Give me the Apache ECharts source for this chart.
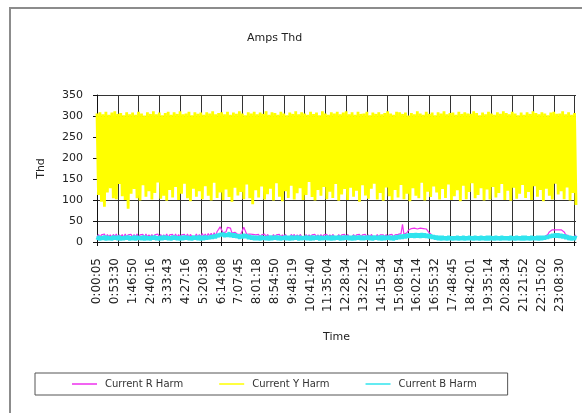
<!DOCTYPE html>
<html>
<head>
<meta charset="utf-8">
<script src="https://cdn.jsdelivr.net/npm/echarts@6/dist/echarts.min.js"></script>
<style>
html,body{margin:0;padding:0;background:#fff;}
#c{width:582px;height:413px;}
</style>
</head>
<body>
<div id="c"></div>
<script>
// Tick labels on the time axis (one every 12 samples)
const timeLabels = ['0:00:05','0:53:30','1:46:50','2:40:16','3:33:43','4:27:16','5:20:38','6:14:08','7:07:45','8:01:18','8:54:50','9:48:19','10:41:40','11:35:04','12:28:34','13:22:12','14:15:34','15:08:54','16:02:14','16:55:32','17:48:45','18:42:01','19:35:14','20:28:34','21:21:52','22:15:02','23:08:30'];
const seriesNames = ['Current R Harm','Current Y Harm','Current B Harm'];
const yTicks = [0,50,100,150,200,250,300,350];

const currentR = [
12,18,11,17,13,19,10,18,12,17,11,18,
13,19,11,17,12,18,10,19,12,17,13,18,
11,18,12,19,10,17,13,18,11,19,12,17,
12,18,11,17,13,19,12,18,10,17,12,19,
11,17,13,18,12,19,11,18,12,17,13,18,
12,19,11,18,13,17,12,19,11,18,12,20,
13,19,12,20,14,21,13,22,14,25,30,36,
34,22,18,24,35,37,33,21,19,23,20,18,
17,19,21,35,33,18,16,19,15,18,14,17,
13,18,12,17,14,19,12,18,13,17,12,18,
12,17,13,18,11,17,12,18,13,17,12,18,
13,18,12,17,12,18,13,17,12,18,11,17,
12,17,13,18,12,17,11,18,12,17,13,18,
12,17,12,18,13,17,12,18,12,17,13,18,
12,18,13,17,12,18,12,17,13,18,12,17,
13,18,12,17,12,18,13,17,12,18,12,17,
13,17,12,18,12,17,13,18,12,17,13,18,
14,20,42,18,16,22,28,31,32,31,33,32,
31,32,33,31,32,30,31,28,22,18,16,15,
14,13,12,13,12,13,12,14,12,13,12,13,
12,13,12,14,12,13,12,13,12,14,12,13,
12,13,12,13,12,14,12,13,12,13,12,14,
12,13,12,13,12,14,12,13,12,13,12,13,
12,14,12,13,12,13,12,14,12,13,12,13,
12,13,12,14,12,13,12,13,12,14,12,13,
12,14,13,15,18,24,28,29,30,29,30,29,
30,29,28,24,18,15,14,13,12,14,13,17
];

const currentY = [
306,112,309,96,304,84,310,118,303,128,308,104,
311,102,305,138,307,109,302,100,309,79,304,115,
308,126,303,104,310,99,306,135,301,108,309,121,
305,101,311,117,304,142,308,103,302,110,307,98,
310,124,303,106,309,131,305,100,311,115,304,139,
306,104,310,97,302,127,309,108,305,121,308,102,
303,133,309,110,306,99,311,141,304,105,307,118,
309,100,304,125,310,107,303,96,308,129,305,111,
311,119,306,102,302,137,309,104,306,90,310,123,
304,106,308,132,305,101,311,114,303,127,309,99,
307,140,303,108,310,97,306,121,302,105,308,134,
305,101,311,116,304,128,309,100,306,112,303,143,
310,107,305,99,308,124,302,110,311,131,306,102,
303,120,309,105,306,138,310,98,304,113,308,126,
311,100,304,129,309,108,303,122,310,96,305,135,
306,111,310,103,302,127,308,139,305,101,309,117,
304,98,307,130,311,109,306,100,303,124,310,106,
309,136,305,102,308,115,301,97,307,128,304,110,
311,104,306,141,303,99,310,120,305,107,308,132,
302,118,309,101,306,126,311,105,304,137,307,100,
308,109,303,123,310,97,305,134,309,102,306,119,
305,140,311,104,307,112,302,128,308,99,304,125,
310,101,306,131,303,106,309,117,305,138,311,100,
307,122,304,98,310,129,306,103,302,115,308,136,
303,105,309,119,305,100,311,133,307,108,304,124,
309,97,306,127,302,110,308,101,310,139,305,113,
306,121,311,102,304,130,309,99,303,117,307,88
];

const currentB = [
5,14,4,13,6,15,4,14,5,13,4,15,
6,14,5,15,4,13,5,14,6,15,4,13,
5,15,4,14,6,13,5,15,4,14,5,13,
4,14,6,15,5,13,4,14,5,15,6,14,
5,13,4,15,6,14,5,13,4,14,5,15,
6,14,5,13,4,15,6,14,5,15,4,14,
5,15,6,14,7,16,8,17,9,19,12,21,
14,22,12,20,13,23,12,21,11,20,10,18,
8,17,9,19,10,18,7,16,6,15,5,14,
5,14,4,15,6,13,5,14,4,15,5,14,
6,15,5,14,4,13,6,15,5,14,4,15,
5,14,6,15,4,14,5,13,6,15,5,14,
4,15,5,14,6,15,4,14,5,13,6,15,
5,14,4,15,5,14,6,15,4,14,5,15,
6,15,5,14,4,15,5,14,6,15,5,14,
5,14,6,15,5,14,4,15,6,14,5,15,
4,15,5,14,6,15,5,14,4,15,6,16,
7,17,8,18,9,19,10,20,11,20,10,21,
11,20,10,21,11,20,10,19,9,18,8,16,
6,15,5,14,4,14,5,13,4,14,5,13,
4,13,5,14,4,13,5,14,4,13,5,14,
5,13,4,14,5,13,4,14,5,13,4,14,
4,14,5,13,4,14,5,13,4,14,5,13,
5,13,4,14,5,13,4,14,5,13,4,14,
4,14,5,13,4,14,5,13,5,14,4,14,
5,14,6,15,8,17,10,19,11,20,11,20,
10,19,9,18,7,16,5,14,4,13,5,15
];

const SAMPLES_PER_LABEL = 12;
const categories = currentY.map((v, i) => (i % SAMPLES_PER_LABEL === 0 ? timeLabels[i / SAMPLES_PER_LABEL] : ''));

const FONT = 'DejaVu Sans';
const COLORS = ['#ee30ee', '#ffff00', '#30e4ee'];
const chart = echarts.init(document.getElementById('c'), null, {renderer: 'canvas'});
chart.setOption({
  animation: false,
  backgroundColor: '#fff',
  graphic: [{
    type: 'rect', silent: true, z: -10,
    shape: {x: 10, y: 8, width: 700, height: 500},
    style: {fill: '#fff', stroke: '#8c8c8c', lineWidth: 2}
  }],
  title: {
    text: 'Amps Thd', left: 247, top: 33, padding: 0,
    textStyle: {fontFamily: FONT, fontSize: 11, fontWeight: 'normal', color: '#222'}
  },
  legend: {
    data: seriesNames.map((n, i) => ({name: n, icon: 'rect', itemStyle: {color: COLORS[i]}})),
    left: 35, top: 373,
    padding: [6, 31, 6, 37],
    borderColor: '#555', borderWidth: 1,
    itemWidth: 25, itemHeight: 1.5, itemGap: 36,
    textStyle: {fontFamily: FONT, fontSize: 10, color: '#333', padding: [0, 0, 0, 3]}
  },
  grid: {left: 97, right: 6, top: 95, bottom: 171, containLabel: false},
  xAxis: {
    type: 'category',
    data: categories,
    boundaryGap: false,
    name: 'Time', nameLocation: 'middle', nameGap: 90,
    nameTextStyle: {fontFamily: FONT, fontSize: 11, color: '#222'},
    axisLine: {show: true, lineStyle: {color: '#111', width: 1}},
    axisTick: {show: true, interval: 13, length: 4, lineStyle: {color: '#111'}},
    splitLine: {show: true, interval: 13, lineStyle: {color: '#333', width: 1}},
    axisLabel: {interval: SAMPLES_PER_LABEL - 1, rotate: 90, margin: 16, fontFamily: FONT, fontSize: 12, color: '#222'}
  },
  yAxis: {
    type: 'value', min: yTicks[0], max: yTicks[yTicks.length - 1], interval: 50,
    name: 'Thd', nameLocation: 'middle', nameGap: 50, nameRotate: 90,
    nameTextStyle: {fontFamily: FONT, fontSize: 11, color: '#222'},
    axisLine: {show: true, lineStyle: {color: '#111', width: 1}},
    axisTick: {show: true, length: 4, lineStyle: {color: '#111'}},
    splitLine: {show: true, lineStyle: {color: '#333', width: 1}},
    axisLabel: {margin: 14, fontFamily: FONT, fontSize: 11, color: '#222'}
  },
  series: [
    {name: seriesNames[0], type: 'line', data: currentR, symbol: 'none', sampling: null,
     color: COLORS[0], lineStyle: {color: COLORS[0], width: 1.2, join: 'bevel'}},
    {name: seriesNames[1], type: 'line', data: currentY, symbol: 'none', sampling: null,
     color: COLORS[1], lineStyle: {color: COLORS[1], width: 2.8, join: 'bevel'}},
    {name: seriesNames[2], type: 'line', data: currentB, symbol: 'none', sampling: null,
     color: COLORS[2], lineStyle: {color: COLORS[2], width: 3, join: 'bevel'}}
  ]
});
</script>
</body>
</html>
